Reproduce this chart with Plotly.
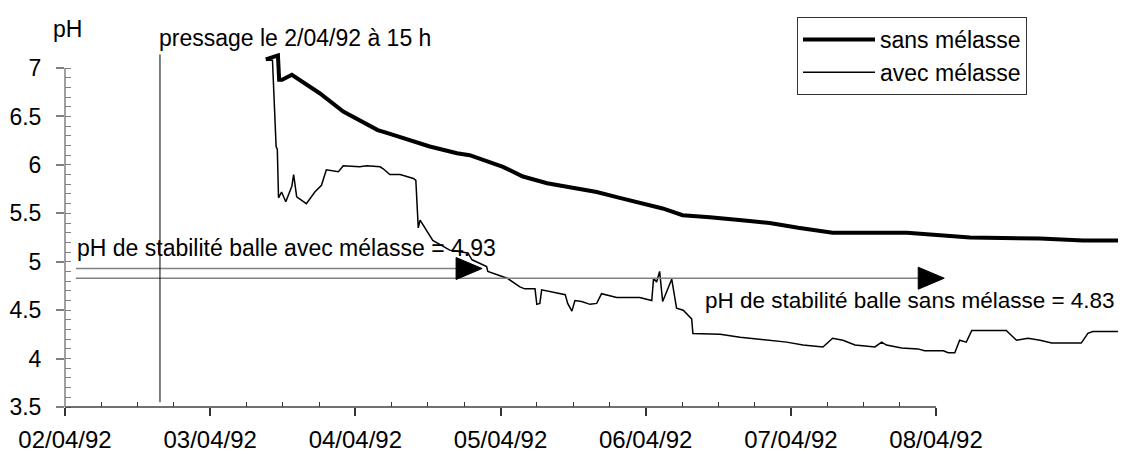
import plotly.graph_objects as go
import pandas as pd

# ---------------- data ----------------
base = pd.Timestamp("1992-04-02 00:00")

# hours elapsed since 02/04/92 00:00
sans_hours = [33.2, 35.2, 35.4, 35.9, 37.5, 40.5, 42.1, 46.0, 48.7, 51.7, 53.2, 57.0,
              60.3, 64.8, 66.9, 72.4, 75.7, 79.7, 87.9, 91.7, 98.8, 102.1, 106.6,
              113.2, 116.5, 121.2, 126.9, 139.2, 143.5, 147.4, 149.6, 161.2, 168.3, 175.4]
sans_ph = [7.09, 7.13, 6.88, 6.88, 6.93, 6.80, 6.74, 6.55, 6.46, 6.36, 6.33, 6.26,
           6.19, 6.12, 6.10, 5.98, 5.88, 5.81, 5.72, 5.66, 5.55, 5.48, 5.46,
           5.42, 5.40, 5.35, 5.30, 5.30, 5.28, 5.27, 5.25, 5.24, 5.22, 5.22]

avec_hours = [33.2, 34.3, 34.9, 35.1, 35.3, 35.8, 36.5, 37.5, 37.8, 38.3, 39.9, 41.3,
              42.4, 43.2, 45.2, 46.0, 48.7, 49.9, 52.1, 52.6, 53.7, 55.4, 57.6, 58.0,
              58.4, 58.7, 60.8, 63.6, 66.6, 67.3, 69.7, 69.9, 73.1, 75.2, 76.0, 77.7,
              78.0, 78.5, 78.8, 80.2, 82.7, 83.1, 83.8, 84.3, 85.4, 86.8, 87.9, 88.7,
              91.2, 95.0, 97.0, 97.3, 97.8, 98.3, 98.8, 100.3, 101.1, 102.2, 103.6,
              103.8, 108.3, 111.6, 116.5, 119.3, 122.0, 125.3, 126.9, 128.6, 130.6,
              133.1, 133.9, 135.0, 135.8, 138.3, 141.0, 142.1, 145.2, 146.0, 147.1,
              147.9, 149.0, 149.9, 155.6, 157.3, 159.2, 161.2, 163.1, 168.0, 169.1,
              169.9, 175.4]
avec_ph = [7.08, 7.08, 6.19, 6.16, 5.66, 5.72, 5.62, 5.78, 5.90, 5.67, 5.60, 5.72,
           5.79, 5.95, 5.93, 5.99, 5.98, 5.99, 5.98, 5.96, 5.90, 5.90, 5.86, 5.84,
           5.35, 5.43, 5.22, 5.12, 5.09, 5.02, 4.95, 4.90, 4.83, 4.74, 4.72, 4.72,
           4.56, 4.57, 4.71, 4.69, 4.66, 4.57, 4.49, 4.60, 4.59, 4.56, 4.57, 4.67,
           4.63, 4.63, 4.60, 4.83, 4.79, 4.90, 4.59, 4.82, 4.52, 4.50, 4.41,
           4.26, 4.25, 4.22, 4.19, 4.17, 4.14, 4.12, 4.21, 4.19, 4.14,
           4.12, 4.12, 4.17, 4.14, 4.11, 4.10, 4.08, 4.08, 4.06, 4.06,
           4.19, 4.17, 4.29, 4.29, 4.19, 4.21, 4.19, 4.16, 4.16, 4.26,
           4.28, 4.28]

tick_days = [0, 1, 2, 3, 4, 5, 6]
tick_labels = ["02/04/92", "03/04/92", "04/04/92", "05/04/92", "06/04/92", "07/04/92", "08/04/92"]
y_ticks = [3.5, 4, 4.5, 5, 5.5, 6, 6.5, 7]
y_tick_labels = ["3.5", "4", "4.5", "5", "5.5", "6", "6.5", "7"]
y_minor = [round(3.5 + 0.1 * i, 1) for i in range(36)]

stab_avec = 4.93
stab_sans = 4.83
press_hour = 15.7
x_end_hours = 175.4
y_min, y_max = 3.5, 7.3

series_names = ["sans mélasse", "avec mélasse"]

# --------------- helpers ---------------
def to_dates(hours):
    return [base + pd.Timedelta(hours=h) for h in hours]

def hx(h):
    return base + pd.Timedelta(hours=h)

def py(v):
    return (v - y_min) / (y_max - y_min)

def px(h):
    return h / x_end_hours

FONT = "Liberation Sans, Arial, sans-serif"
OFF = 8  # default body margin of the html page

fig = go.Figure()
fig.add_trace(go.Scatter(x=to_dates(sans_hours), y=sans_ph, mode="lines",
                         name=series_names[0], line=dict(color="black", width=4)))
fig.add_trace(go.Scatter(x=to_dates(avec_hours), y=avec_ph, mode="lines",
                         name=series_names[1], line=dict(color="black", width=1.5)))

shapes = []
# stability lines
shapes.append(dict(type="line", xref="x", yref="y", x0=hx(1.8), x1=hx(66.0),
                   y0=stab_avec, y1=stab_avec, line=dict(color="#808080", width=1.5)))
shapes.append(dict(type="line", xref="x", yref="y", x0=hx(1.8), x1=hx(142.0),
                   y0=stab_sans, y1=stab_sans, line=dict(color="#808080", width=1.5)))
# arrow heads (pixel-sized triangles anchored on the stability values)
for hh, val in [(66.8, stab_avec), (143.2, stab_sans)]:
    shapes.append(dict(type="path", xref="x", yref="y", xsizemode="pixel", ysizemode="pixel",
                       xanchor=hx(hh), yanchor=val, path="M-13,-11 L13,0 L-13,11 Z",
                       fillcolor="black", line=dict(color="black", width=1)))
# pressage line
shapes.append(dict(type="line", xref="x", yref="y", x0=hx(press_hour), x1=hx(press_hour),
                   y0=3.55, y1=7.14, line=dict(color="black", width=1)))
# axis lines (paper refs so they are not clipped)
shapes.append(dict(type="line", xref="paper", yref="paper", x0=0, x1=px(144),
                   y0=0, y1=0, line=dict(color="#404040", width=1.5)))
shapes.append(dict(type="line", xref="paper", yref="paper", x0=0, x1=0,
                   y0=0, y1=py(7), line=dict(color="#808080", width=1.5)))

annotations = [
    dict(text="pH", xref="paper", yref="paper", x=0.002, y=1.027, xanchor="center",
         yanchor="middle", showarrow=False, font=dict(size=23, family=FONT, color="black")),
    dict(text="pressage le 2/04/92 à 15 h", xref="paper", yref="paper", x=px(press_hour),
         y=py(7.31), xanchor="left", yanchor="middle", xshift=-3, showarrow=False,
         font=dict(size=23, family=FONT, color="black")),
    dict(text="pH de stabilité balle avec mélasse = 4.93", xref="x", yref="y", x=hx(2.15), y=5.14,
         xanchor="left", yanchor="middle", xshift=-3, showarrow=False,
         font=dict(size=23, family=FONT, color="black")),
    dict(text="pH de stabilité balle sans mélasse = 4.83", xref="x", yref="y", x=hx(105.9), y=4.60,
         xanchor="left", yanchor="middle", xshift=-3, showarrow=False,
         font=dict(size=22.5, family=FONT, color="black")),
]

minor_x = [hx(h) for h in range(6, 144, 6) if h % 24 != 0]

W, H = 1126 - OFF, 454 - OFF
fig.update_layout(
    width=W, height=H,
    margin=dict(l=65 - OFF, r=0, t=39 - OFF, b=47, autoexpand=False),
    plot_bgcolor="white", paper_bgcolor="white",
    font=dict(family=FONT, color="black"),
    shapes=shapes, annotations=annotations,
    hovermode=False,
    legend=dict(xref="container", yref="container", x=(797 - OFF) / W, y=1 - (17 - OFF) / H,
                xanchor="left", yanchor="top", itemwidth=72,
                bordercolor="#333333", borderwidth=1, bgcolor="white",
                font=dict(size=23, family=FONT, color="black")),
    xaxis=dict(type="date", range=[base, hx(x_end_hours)], automargin=False,
               tickmode="array", tickvals=[hx(24 * d) for d in tick_days], ticktext=tick_labels,
               ticks="outside", ticklen=8, tickwidth=1.5, tickcolor="#333333",
               tickfont=dict(size=24, family=FONT, color="black"), ticklabelstandoff=3,
               showline=False, showgrid=False, zeroline=False,
               minor=dict(tickmode="array", tickvals=minor_x, ticks="inside", ticklen=5,
                          tickwidth=1.2, tickcolor="#333333", showgrid=False)),
    yaxis=dict(range=[y_min, y_max], tickmode="array", tickvals=y_ticks, automargin=False,
               ticktext=y_tick_labels,
               ticks="outside", ticklen=8, tickwidth=1.5, tickcolor="#808080",
               tickfont=dict(size=23, family=FONT, color="black"), ticklabelstandoff=10,
               showline=False, showgrid=False, zeroline=False,
               minor=dict(tickmode="array", tickvals=y_minor, ticks="inside", ticklen=6,
                          tickwidth=1.2, tickcolor="#808080", showgrid=False)),
)

fig.write_html("out.html")
